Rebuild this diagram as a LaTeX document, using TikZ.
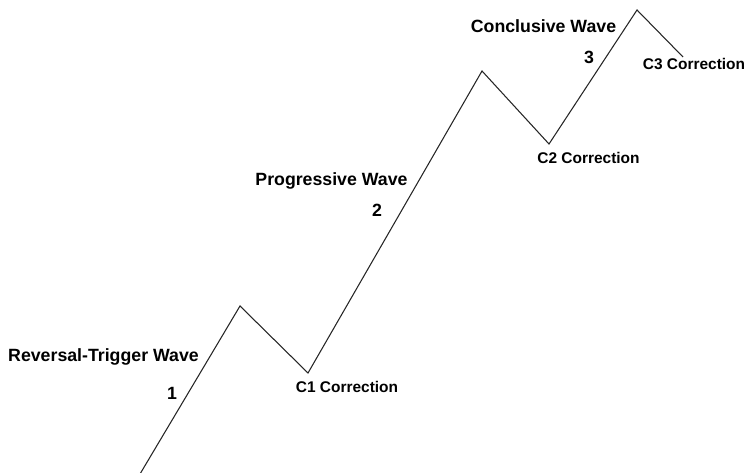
\documentclass[tikz,border=0pt]{standalone}
\usepackage{fontspec}
\setmainfont{Liberation Sans}
\usepackage{tikz}

\begin{document}
\begin{tikzpicture}[
    x=0.75pt, y=-0.75pt,
    wave/.style={draw=black!85, line width=0.8pt, line join=miter},
    title/.style={font=\fontsize{13.3}{15}\selectfont\bfseries, inner sep=0pt},
    count/.style={font=\fontsize{13.3}{15}\selectfont\bfseries, inner sep=0pt},
    corr/.style={font=\fontsize{11.6}{14}\selectfont\bfseries, inner sep=0pt}
]
    \useasboundingbox (0,0) rectangle (748,473);

    % Turning points
    \coordinate (start) at (140,474);
    \coordinate (p1) at (240,306);
    \coordinate (c1) at (308,373);
    \coordinate (p2) at (482,71);
    \coordinate (c2) at (549,144);
    \coordinate (p3) at (637,10);
    \coordinate (c3) at (683,57);

    % Wave line
    \draw[wave] (start) -- (p1) -- (c1) -- (p2) -- (c2) -- (p3) -- (c3);

    % Wave labels
    \node[title] (w1) at (103.5,357) {Reversal-Trigger Wave};
    \node[count] (n1) at (172,393) {1};
    \node[title] (w2) at (331.5,181) {Progressive Wave};
    \node[count] (n2) at (377,210) {2};
    \node[title] (w3) at (543.5,26) {Conclusive Wave};
    \node[count] (n3) at (589,57) {3};

    % Corrections
    \node[corr] (k1) at (347,387) {C1 Correction};
    \node[corr] (k2) at (588.5,158) {C2 Correction};
    \node[corr] (k3) at (694,64) {C3 Correction};
\end{tikzpicture}
\end{document}
